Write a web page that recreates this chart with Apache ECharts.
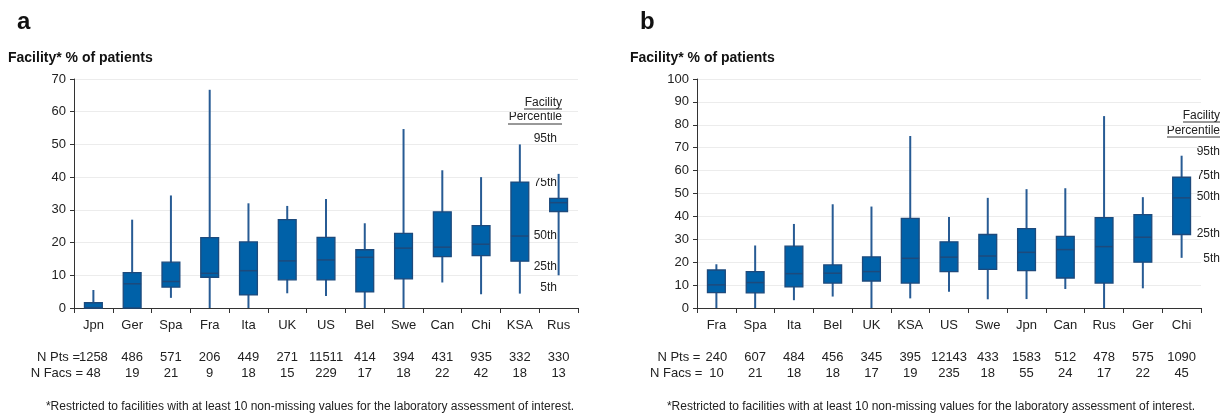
<!DOCTYPE html>
<html>
<head>
<meta charset="utf-8">
<script src="https://cdn.jsdelivr.net/npm/echarts@6/dist/echarts.min.js"></script>
<style>
html, body { margin: 0; padding: 0; background: #ffffff; }
#chart { width: 1223px; height: 415px; }
</style>
</head>
<body>
<div id="chart"></div>
<script>
// panel a
var catsA = ['Jpn', 'Ger', 'Spa', 'Fra', 'Ita', 'UK', 'US', 'Bel', 'Swe', 'Can', 'Chi', 'KSA', 'Rus'];
var lowA  = [0, 0, 3.1, 0, 0, 4.5, 3.7, 0, 0, 7.8, 4.2, 4.4, 10];
var q1A   = [0, 0, 6.4, 9.4, 4.0, 8.6, 8.6, 4.9, 8.9, 15.7, 16, 14.3, 29.5];
var medA  = [0.1, 7.4, 8.1, 10.6, 11.4, 14.4, 14.7, 15.5, 18.3, 18.6, 19.5, 22, 32.2];
var q3A   = [1.6, 10.8, 14, 21.5, 20.2, 27, 21.6, 17.8, 22.8, 29.4, 25.2, 38.5, 33.5];
var highA = [5.5, 27, 34.4, 66.7, 32, 31.2, 33.3, 25.9, 54.7, 42.1, 40, 50, 41];
var nPtsA  = ['1258', '486', '571', '206', '449', '271', '11511', '414', '394', '431', '935', '332', '330'];
var nFacsA = ['48', '19', '21', '9', '18', '15', '229', '17', '18', '22', '42', '18', '13'];

// panel b
var catsB = ['Fra', 'Spa', 'Ita', 'Bel', 'UK', 'KSA', 'US', 'Swe', 'Jpn', 'Can', 'Rus', 'Ger', 'Chi'];
var lowB  = [0, 0, 3.4, 5, 0, 4.2, 7.1, 3.8, 3.9, 8.3, 0, 8.6, 21.9];
var q1B   = [6.7, 6.6, 9.2, 10.9, 11.8, 10.9, 15.9, 16.9, 16.3, 13.1, 10.9, 20, 32.1];
var medB  = [10.1, 11.1, 15, 15.2, 15.9, 21.7, 22.2, 22.7, 24.3, 25.5, 26.8, 30.9, 48.1];
var q3B   = [16.6, 15.9, 27, 18.8, 22.3, 39.1, 28.9, 32.1, 34.7, 31.3, 39.5, 40.8, 57.1];
var highB = [19.1, 27.3, 36.7, 45.3, 44.3, 75.1, 39.7, 48.1, 51.9, 52.3, 83.8, 48.4, 66.5];
var nPtsB  = ['240', '607', '484', '456', '345', '395', '12143', '433', '1583', '512', '478', '575', '1090'];
var nFacsB = ['10', '21', '18', '18', '17', '19', '235', '18', '55', '24', '17', '22', '45'];

var pctLabels = ['95th', '75th', '50th', '25th', '5th'];
var footnote = '*Restricted to facilities with at least 10 non-missing values for the laboratory assessment of interest.';

var FONT = "'Liberation Sans', Arial, sans-serif";
var BOX_FILL = '#0061a8';
var BOX_LINE = '#1d4a7c';
var WHISKER = '#275b94';

function rows(cats, low, q1, med, q3, high) {
  return cats.map(function (c, i) {
    return [i, low[i], q1[i], med[i], q3[i], high[i]];
  });
}

function renderBox(params, api) {
  var x = api.value(0);
  var lo = api.coord([x, api.value(1)]);
  var b1 = api.coord([x, api.value(2)]);
  var md = api.coord([x, api.value(3)]);
  var b3 = api.coord([x, api.value(4)]);
  var hi = api.coord([x, api.value(5)]);
  var w = api.size([1, 0])[0] * 0.46;
  var cx = lo[0];
  return {
    type: 'group',
    children: [
      { type: 'line', shape: { x1: cx, y1: lo[1], x2: cx, y2: hi[1] },
        style: { stroke: WHISKER, lineWidth: 2 } },
      { type: 'rect', shape: { x: cx - w / 2, y: b3[1], width: w, height: b1[1] - b3[1] },
        style: { fill: BOX_FILL, stroke: BOX_LINE, lineWidth: 1.3 } },
      { type: 'line', shape: { x1: cx - w / 2, y1: md[1], x2: cx + w / 2, y2: md[1] },
        style: { stroke: BOX_LINE, lineWidth: 1.5 } }
    ]
  };
}

function catAxis(grid, data) {
  return {
    type: 'category', gridIndex: grid, data: data, position: 'bottom',
    axisLine: { lineStyle: { color: '#333333', width: 1 } },
    axisTick: { show: true, length: 5, lineStyle: { color: '#333333' } },
    axisLabel: { fontFamily: FONT, fontSize: 13, color: '#222222', margin: 11, interval: 0 },
    splitLine: { show: false }
  };
}

function rowAxis(grid, data, offset) {
  return {
    type: 'category', gridIndex: grid, data: data, position: 'bottom', offset: offset,
    axisLine: { show: false }, axisTick: { show: false },
    axisLabel: { fontFamily: FONT, fontSize: 13, color: '#222222', margin: 9, interval: 0 },
    splitLine: { show: false }
  };
}

function valAxis(grid, max) {
  return {
    type: 'value', gridIndex: grid, min: 0, max: max, interval: 10,
    axisLine: { show: true, lineStyle: { color: '#333333' } },
    axisTick: { show: true, length: 4, lineStyle: { color: '#333333' } },
    axisLabel: { fontFamily: FONT, fontSize: 13, color: '#222222', margin: 8 },
    splitLine: { show: true, lineStyle: { color: '#ececec', width: 1 } }
  };
}

function txt(x, y, s, opts) {
  var st = { text: s, x: x, y: y, fill: '#222222', fontFamily: FONT, fontSize: 12,
             align: 'left', verticalAlign: 'middle' };
  for (var k in opts) st[k] = opts[k];
  return { type: 'text', silent: true, style: st };
}

function uline(x1, x2, y) {
  return { type: 'line', silent: true, shape: { x1: x1, y1: y, x2: x2, y2: y },
           style: { stroke: '#333333', lineWidth: 1 } };
}

var pctYA = [139, 183, 236, 267, 288];
var pctYB = [152, 176, 197, 234, 259];

var graphics = [
  txt(17, 22, 'a', { fontSize: 24, fontWeight: 'bold', fill: '#111111' }),
  txt(640, 22, 'b', { fontSize: 24, fontWeight: 'bold', fill: '#111111' }),
  txt(8, 58, 'Facility* % of patients', { fontSize: 14, fontWeight: 'bold', fill: '#111111' }),
  txt(630, 58, 'Facility* % of patients', { fontSize: 14, fontWeight: 'bold', fill: '#111111' }),
  txt(80, 357, 'N Pts =', { fontSize: 13, align: 'right' }),
  txt(83, 373, 'N Facs =', { fontSize: 13, align: 'right' }),
  txt(704, 357, 'N Pts = ', { fontSize: 13, align: 'right' }),
  txt(706, 373, 'N Facs = ', { fontSize: 13, align: 'right' }),
  txt(310, 407, footnote, { fontSize: 12, align: 'center' }),
  txt(931, 407, footnote, { fontSize: 12, align: 'center' }),
  txt(562, 103, 'Facility', { align: 'right' }),
  txt(562, 117, 'Percentile', { align: 'right' }),
  uline(524, 562, 109), uline(508, 562, 124),
  txt(1220, 116, 'Facility', { align: 'right' }),
  txt(1220, 131, 'Percentile', { align: 'right' }),
  uline(1183, 1220, 122), uline(1167, 1220, 137)
];
pctLabels.forEach(function (p, i) {
  graphics.push(txt(557, pctYA[i], p, { align: 'right' }));
  graphics.push(txt(1220, pctYB[i], p, { align: 'right' }));
});

var chart = echarts.init(document.getElementById('chart'), null, { renderer: 'canvas' });
chart.setOption({
  backgroundColor: '#ffffff',
  animation: false,
  grid: [
    { left: 74, top: 79, width: 504, height: 229 },
    { left: 697, top: 79, width: 504, height: 229 }
  ],
  xAxis: [
    catAxis(0, catsA), rowAxis(0, nPtsA, 34), rowAxis(0, nFacsA, 50),
    catAxis(1, catsB), rowAxis(1, nPtsB, 34), rowAxis(1, nFacsB, 50)
  ],
  yAxis: [valAxis(0, 70), valAxis(1, 100)],
  series: [
    { type: 'custom', xAxisIndex: 0, yAxisIndex: 0, renderItem: renderBox,
      encode: { x: 0, y: [1, 2, 3, 4, 5] }, data: rows(catsA, lowA, q1A, medA, q3A, highA) },
    { type: 'custom', xAxisIndex: 3, yAxisIndex: 1, renderItem: renderBox,
      encode: { x: 0, y: [1, 2, 3, 4, 5] }, data: rows(catsB, lowB, q1B, medB, q3B, highB) }
  ],
  graphic: graphics
});
</script>
</body>
</html>
